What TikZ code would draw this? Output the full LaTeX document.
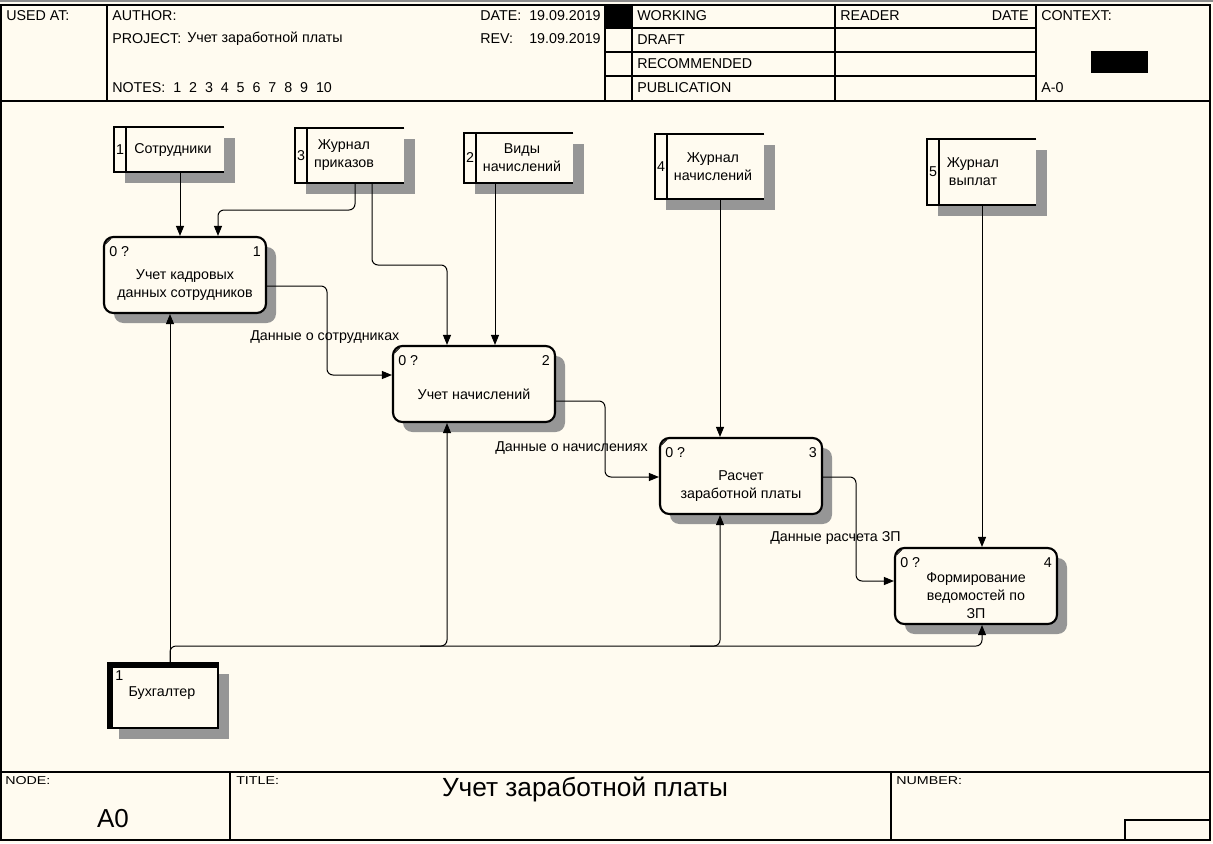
\documentclass[tikz,border=0pt]{standalone}
\usepackage{fontspec}
\setmainfont{Liberation Sans}
\usetikzlibrary{arrows.meta,fit}
\definecolor{bg}{RGB}{255,251,240}
\definecolor{shad}{RGB}{150,150,150}

\newcommand\DStore[8]{%
  \node[fit={(#2,#3) (#4,#5)}, inner sep=0] (#1) {};
  \fill[shad] ({#2+11},{#3+11}) rectangle ({#4+11},{#5+11});
  \fill[bg] (#1.north west) rectangle (#1.south east);
  \draw[line width=1.6pt] (#1.north east) -- (#1.north west) -- (#1.south west) -- (#1.south east);
  \draw[line width=1.2pt] ({#2+12},#3) -- ({#2+12},#5);
  \node[inner sep=0] (#1n) at ({#2+6},{(#3+#5)/2}) {#6};
  \node[align=center, inner sep=0] (#1t) at (#7,{(#3+#5)/2}) {#8};
}

\newcommand\PBox[5]{%
  \fill[shad, rounded corners=7pt] ({#2+10},{#3+10}) rectangle ({#2+172},{#3+86});
  \node[proc] (#1) at ({#2+81},{#3+38}) {};
  \draw[line width=0.6pt] ({#2+1.5},{#3+7}) -- ({#2+7},{#3+1.5});
  \node[anchor=north west, inner sep=0] (#1a) at ({#2+5},{#3+9}) {0 ?};
  \node[anchor=north east, inner sep=0] (#1b) at ({#2+157},{#3+9}) {#4};
  \node[align=center, inner sep=0] (#1t) at ({#2+81},{#3+48}) {#5};
}

\begin{document}
\begin{tikzpicture}[x=0.75pt,y=-0.75pt,
  font=\fontsize{10.7}{13.5}\selectfont,
  >={Triangle[length=7.5pt,width=6pt]},
  frame/.style={line width=0.8pt},
  hdr/.style={anchor=west, inner sep=0},
  ftr/.style={anchor=west, inner sep=0},
  proc/.style={draw, line width=1.6pt, rounded corners=7pt, fill=bg,
    minimum width=121.5pt, minimum height=57pt, inner sep=0},
  conn/.style={line width=0.75pt, rounded corners=4.5pt},
  lbl/.style={anchor=west, inner sep=0}]

\useasboundingbox (0,0) rectangle (1213,843);
\fill[bg] (0,0) rectangle (1213,843);
\draw[black!45, line width=1.5pt] (0,1) -- (1213,1);

% outer frame
\draw[frame] (1,5) rectangle (1210,840);

% header
\draw[frame] (1,101) -- (1210,101);
\draw[frame] (107,5) -- (107,101);
\draw[frame] (605,5) -- (605,101);
\draw[frame] (632,5) -- (632,101);
\draw[frame] (835,5) -- (835,101);
\draw[frame] (1036,5) -- (1036,101);
\foreach \yy in {28,52,76} \draw[frame] (605,\yy) -- (1036,\yy);
\fill (605,5) rectangle (632,28);
\fill (1091,51) rectangle (1148,73);

\node[hdr] (h1) at (6,16) {USED AT:};
\node[hdr] (h2) at (112,16) {AUTHOR:};
\node[hdr] (h3) at (112,39) {PROJECT:};
\node[hdr] (h4) at (187,39) {Учет заработной платы};
\node[hdr] (h5) at (112,88) {NOTES:\ \ 1\ \ 2\ \ 3\ \ 4\ \ 5\ \ 6\ \ 7\ \ 8\ \ 9\ \ 10};
\node[hdr] (h6) at (480,16) {DATE:};
\node[hdr] (h7) at (529,16) {19.09.2019};
\node[hdr] (h8) at (480,39) {REV:};
\node[hdr] (h9) at (529,39) {19.09.2019};
\node[hdr] (h10) at (637,16) {WORKING};
\node[hdr] (h11) at (637,40) {DRAFT};
\node[hdr] (h12) at (637,64) {RECOMMENDED};
\node[hdr] (h13) at (637,88) {PUBLICATION};
\node[hdr] (h14) at (840,16) {READER};
\node[anchor=east, inner sep=0] (h15) at (1029,16) {DATE};
\node[hdr] (h16) at (1041,16) {CONTEXT:};
\node[hdr] (h17) at (1041,88) {A-0};

% footer
\draw[frame] (1,772) -- (1210,772);
\draw[frame] (230,772) -- (230,840);
\draw[frame] (891,772) -- (891,840);
\draw[frame] (1125,840) -- (1125,820) -- (1210,820);
\node[ftr] (f1) at (5,781) {\scalebox{1}[0.8]{NODE:}};
\node[ftr] (f2) at (236,781) {\scalebox{1}[0.8]{TITLE:}};
\node[ftr] (f3) at (896,781) {\scalebox{1}[0.8]{NUMBER:}};
\node[inner sep=0, font=\fontsize{19.5}{22}\selectfont] (f4) at (113,819) {A0};
\node[inner sep=0, font=\fontsize{19.7}{22}\selectfont] (f5) at (585,789) {Учет заработной платы};

% data stores
\DStore{s1}{114}{127}{224}{172}{1}{173}{Сотрудники}
\DStore{s3}{295}{128}{404}{183}{3}{344}{Журнал\\приказов}
\DStore{s2}{464}{133}{573}{183}{2}{522}{Виды\\начислений}
\DStore{s4}{655}{134}{764}{199}{4}{713}{Журнал\\начислений}
\DStore{s5}{927}{139}{1036}{205}{5}{973}{Журнал\\выплат}

% processes
\PBox{p1}{104}{237}{1}{Учет кадровых\\данных сотрудников}
\PBox{p2}{393}{346}{2}{Учет начислений}
\PBox{p3}{660}{438}{3}{Расчет\\заработной платы}
\PBox{p4}{895}{548}{4}{Формирование\\ведомостей по\\ЗП}

% external entity
\fill[shad] (119,674) rectangle (229,739);
\node[draw, line width=1.5pt, fill=bg, inner sep=0, minimum width=82.5pt, minimum height=48.75pt] (m1) at (163,695.5) {};
\fill (107,662) rectangle (219,668);
\fill (107,662) rectangle (113,729);
\node[anchor=west, inner sep=0] (m1n) at (115,676) {1};
\node[inner sep=0] (m1t) at (162,693) {Бухгалтер};

% controls / inputs from stores
\draw[conn,->] (180,0 |- s1.south) -- (180,0 |- p1.north);
\draw[conn,->] (355,0 |- s3.south) -- (355,210) -- (218,210) -- (218,0 |- p1.north);
\draw[conn,->] (372,0 |- s3.south) -- (372,265) -- (447,265) -- (447,0 |- p2.north);
\draw[conn,->] (495,0 |- s2.south) -- (495,0 |- p2.north);
\draw[conn,->] (720,0 |- s4.south) -- (720,0 |- p3.north);
\draw[conn,->] (982,0 |- s5.south) -- (982,0 |- p4.north);

% outputs
\draw[conn,->] (p1.east |- 0,286) -- (327,286) -- (327,375) -- (p2.west |- 0,375);
\draw[conn,->] (p2.east |- 0,401) -- (605,401) -- (605,477) -- (p3.west |- 0,477);
\draw[conn,->] (p3.east |- 0,477) -- (856,477) -- (856,581) -- (p4.west |- 0,581);

% mechanisms
\draw[conn,->] (170,0 |- m1.north) -- (170,0 |- p1.south);
\draw[conn,->] (170,0 |- m1.north) -- (170,646) -- (982,646) -- (982,0 |- p4.south);
\draw[conn,->] (420,646) -- (447,646) -- (447,0 |- p2.south);
\draw[conn,->] (690,646) -- (720,646) -- (720,0 |- p3.south);

% labels
\node[lbl] (l1) at (250,337) {Данные о сотрудниках};
\node[lbl] (l2) at (495,448) {Данные о начислениях};
\node[lbl] (l3) at (770,538) {Данные расчета ЗП};
\end{tikzpicture}
\end{document}
